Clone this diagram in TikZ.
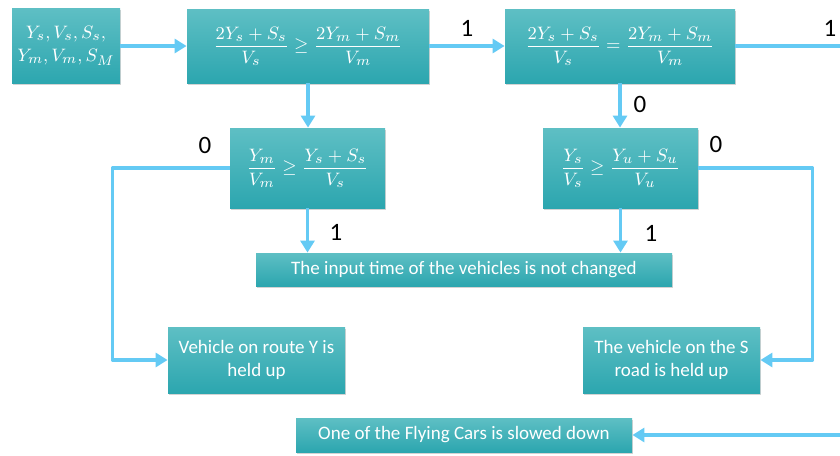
\documentclass[tikz,border=0pt]{standalone}
\usepackage{amsmath}
\usepackage{amssymb}
\usepackage{fontspec}
\setmainfont{Carlito}
\usepackage{tikz}
\usetikzlibrary{arrows.meta,shadows}

\definecolor{boxtop}{RGB}{94,191,196}
\definecolor{boxbot}{RGB}{44,166,175}
\definecolor{flowblue}{RGB}{100,202,244}

\tikzset{
  stepbox/.style={draw=none,top color=boxtop,bottom color=boxbot,text=white,
    inner sep=0pt,align=center,font=\fontsize{9.5}{11.5}\selectfont,
    drop shadow={shadow xshift=0.6pt,shadow yshift=-0.9pt,opacity=0.35}},
  flow/.style={draw=flowblue,line width=1.7pt,-{Triangle[length=6pt,width=7pt]}},
  bit/.style={font=\fontsize{12.5}{14}\selectfont,text=black}
}

\begin{document}
\begin{tikzpicture}[x=0.5pt,y=-0.5pt,line join=round]
\useasboundingbox (0,0) rectangle (840,455);

%% ---------------- top row: inputs and the two first tests ----------
\node[stepbox,minimum width=54pt,minimum height=37.5pt] (in) at (66,46)
     {$Y_s, V_s, S_s,$\\$Y_m, V_m, S_M$};
\node[stepbox,minimum width=121pt,minimum height=37pt] (ge) at (308,46)
     {$\dfrac{2Y_s+S_s}{V_s}\geq\dfrac{2Y_m+S_m}{V_m}$};
\node[stepbox,minimum width=115pt,minimum height=37pt] (eq) at (620,46)
     {$\dfrac{2Y_s+S_s}{V_s}=\dfrac{2Y_m+S_m}{V_m}$};

%% ---------------- second row: single-route tests -------------------
\node[stepbox,minimum width=77.5pt,minimum height=40pt] (tm) at (307.5,168)
     {$\dfrac{Y_m}{V_m}\geq\dfrac{Y_s+S_s}{V_s}$};
\node[stepbox,minimum width=77.5pt,minimum height=40pt] (ts) at (620.5,168)
     {$\dfrac{Y_s}{V_s}\geq\dfrac{Y_u+S_u}{V_u}$};

%% ---------------- outcomes -------------------------------------------
\node[stepbox,minimum width=208pt,minimum height=16.5pt] (keep) at (464,269.5)
     {The input time of the vehicles is not changed};
\node[stepbox,minimum width=88.5pt,minimum height=33pt] (holdy) at (256.5,360)
     {Vehicle on route Y is\\held up};
\node[stepbox,minimum width=88.5pt,minimum height=33pt] (holds) at (671.5,360)
     {The vehicle on the S\\road is held up};
\node[stepbox,minimum width=168pt,minimum height=17pt] (slow) at (464,435)
     {One of the Flying Cars is slowed down};

%% ---------------- connectors -----------------------------------------
\coordinate (offr) at (850,46);
\draw[flow] (in.east) -- (ge.west);
\draw[flow] (ge.east) -- (eq.west);
\draw[flow] (ge.south) -- (ge.south |- tm.north);
\draw[flow] (eq.south) -- (eq.south |- ts.north);
\draw[flow] (tm.south) -- (tm.south |- keep.north);
\draw[flow] (ts.south) -- (ts.south |- keep.north);
\draw[flow] (tm.west) -- ++(-117,0) |- (holdy.west);
\draw[flow] (ts.east) -- ++(114,0) |- (holds.east);
\draw[flow] (eq.east) -- (offr) |- (slow.east);

%% ---------------- branch values --------------------------------------
\node[bit] (b1) at (467,28) {1};
\node[bit] (b2) at (830,28) {1};
\node[bit] (b3) at (640,104) {0};
\node[bit] (b4) at (205,145) {0};
\node[bit] (b5) at (716,144) {0};
\node[bit] (b6) at (336,232) {1};
\node[bit] (b7) at (651,233) {1};
\end{tikzpicture}
\end{document}
